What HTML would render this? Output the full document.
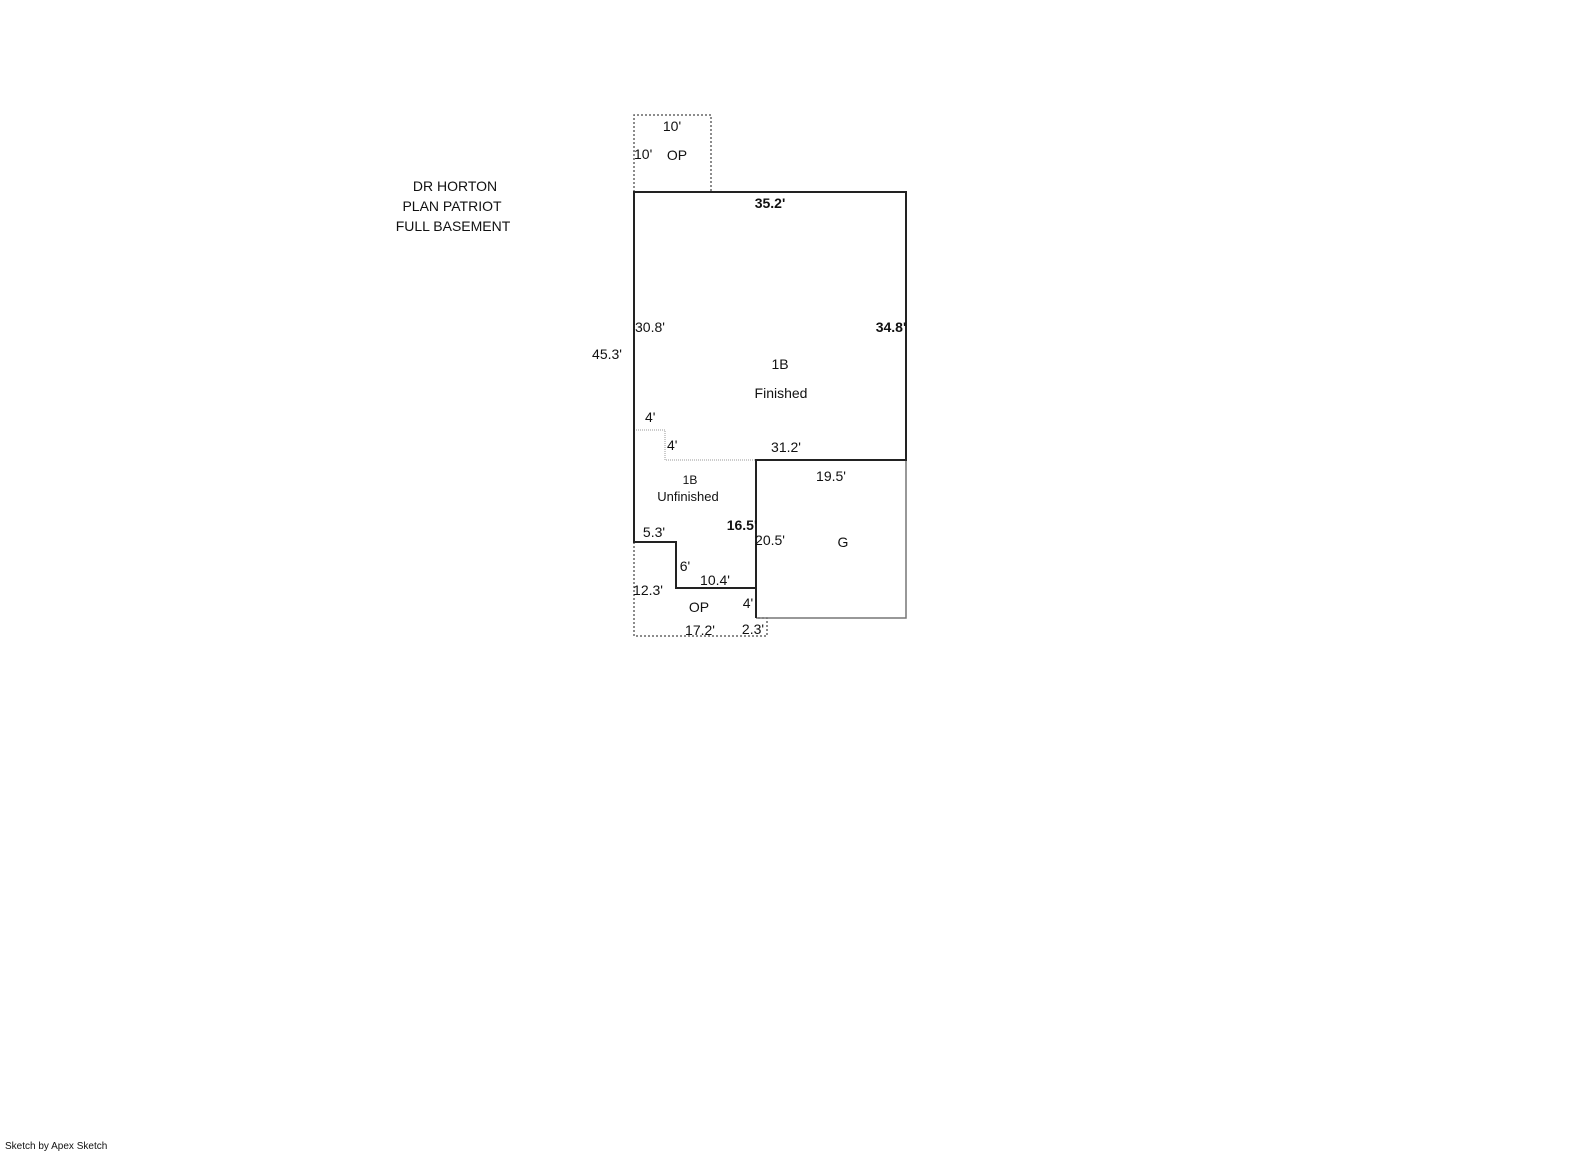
<!DOCTYPE html>
<html><head><meta charset="utf-8"><style>
html,body{margin:0;padding:0;background:#fff;}
svg{display:block;}
text{font-family:"Liberation Sans",sans-serif;font-size:14px;fill:#111;}
</style></head><body>
<svg width="1585" height="1163" viewBox="0 0 1585 1163" xmlns="http://www.w3.org/2000/svg">
<rect width="1585" height="1163" fill="#fff"/>
<!-- dotted areas -->
<g fill="none" stroke="#666" stroke-width="1.5" stroke-dasharray="2,2">
<polyline points="634,192 634,115 711,115 711,192"/>
<polyline points="634,542 634,636 767,636 767,618 756,618"/>
</g>
<g fill="none" stroke="#999" stroke-width="1" stroke-dasharray="1,1">
<polyline points="634,430 665,430 665,460 756,460"/>
</g>
<!-- garage -->
<polyline points="906,460 906,618 756,618" fill="none" stroke="#777" stroke-width="1.5"/>
<!-- main -->
<polygon points="634,192 906,192 906,460 756,460 756,588 676,588 676,542 634,542" fill="none" stroke="#222" stroke-width="2"/>
<line x1="756" y1="588" x2="756" y2="618" stroke="#222" stroke-width="2"/>
<!-- labels -->
<text x="455" y="191" text-anchor="middle">DR HORTON</text>
<text x="452" y="211" text-anchor="middle">PLAN PATRIOT</text>
<text x="453" y="231" text-anchor="middle">FULL BASEMENT</text>
<text x="672" y="131" text-anchor="middle">10'</text>
<text x="634" y="159">10'</text>
<text x="677" y="160" text-anchor="middle">OP</text>
<text x="770" y="208" text-anchor="middle" font-weight="bold">35.2'</text>
<text x="635" y="332">30.8'</text>
<text x="891" y="332" text-anchor="middle" font-weight="bold">34.8'</text>
<text x="607" y="359" text-anchor="middle">45.3'</text>
<text x="780" y="369" text-anchor="middle">1B</text>
<text x="781" y="398" text-anchor="middle">Finished</text>
<text x="645" y="422">4'</text>
<text x="667" y="450">4'</text>
<text x="786" y="452" text-anchor="middle">31.2'</text>
<text x="831" y="481" text-anchor="middle">19.5'</text>
<text x="690" y="484" text-anchor="middle" style="font-size:12px">1B</text>
<text x="688" y="501" text-anchor="middle" style="font-size:13px">Unfinished</text>
<text x="742" y="530" text-anchor="middle" font-weight="bold">16.5'</text>
<text x="654" y="537" text-anchor="middle">5.3'</text>
<text x="770" y="545" text-anchor="middle">20.5'</text>
<text x="843" y="547" text-anchor="middle">G</text>
<text x="685" y="571" text-anchor="middle">6'</text>
<text x="715" y="585" text-anchor="middle">10.4'</text>
<text x="648" y="595" text-anchor="middle">12.3'</text>
<text x="699" y="612" text-anchor="middle">OP</text>
<text x="748" y="608" text-anchor="middle">4'</text>
<text x="700" y="635" text-anchor="middle">17.2'</text>
<text x="753" y="634" text-anchor="middle">2.3'</text>
<text x="5" y="1149" style="font-size:10px">Sketch by Apex Sketch</text>
</svg>
</body></html>
